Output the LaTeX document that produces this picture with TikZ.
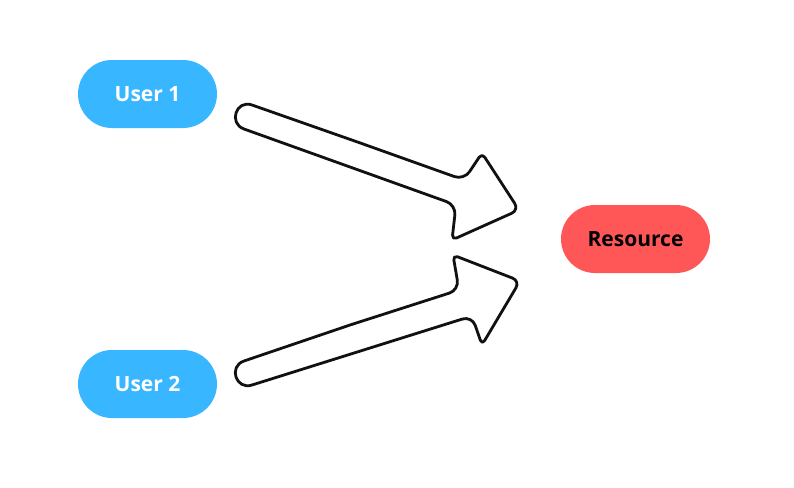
\documentclass[tikz,border=0pt]{standalone}
\usepackage{fontspec}
\setmainfont{Open Sans}
\definecolor{userblue}{HTML}{38B6FF}
\definecolor{resred}{HTML}{FF5757}
\definecolor{ink}{HTML}{111111}
\begin{document}
\begin{tikzpicture}[x=1pt,y=-1pt,
  pill/.style={rounded corners=34pt, minimum height=68pt, inner sep=0pt, font=\fontsize{21}{25}\selectfont\bfseries},
  user/.style={pill, fill=userblue, text=white, minimum width=139pt},
  res/.style={pill, fill=resred, text=black, minimum width=149pt},
  blockarrow/.style={draw=ink, line width=2.8pt, fill=white, line join=round}]
\useasboundingbox (0,0) rectangle (794,487);
\node[user] (u1) at (147.5,94) {User 1};
\node[user] (u2) at (147.5,384) {User 2};
\node[res] (r) at (635.5,239) {Resource};
% top block arrow
\draw[blockarrow] (357.5,142) [rounded corners=10pt] -- (464,180) [rounded corners=5pt] -- (482,153) [rounded corners=8pt] -- (519,210) [rounded corners=5pt] -- (452,240) [rounded corners=10pt] -- (456,205) [sharp corners] -- (244,129) .. controls (228.1,123.3) and (236.1,99.3) .. (252,105) -- cycle;
% bottom block arrow
\draw[blockarrow] (350,325) [rounded corners=10pt] -- (459,290) [rounded corners=5pt] -- (453,255) [rounded corners=8pt] -- (520,281) [rounded corners=5pt] -- (482,345) [rounded corners=10pt] -- (472,316) [sharp corners] -- (252,385) .. controls (236,390.4) and (228,366.4) .. (244,361) -- cycle;
\end{tikzpicture}
\end{document}
